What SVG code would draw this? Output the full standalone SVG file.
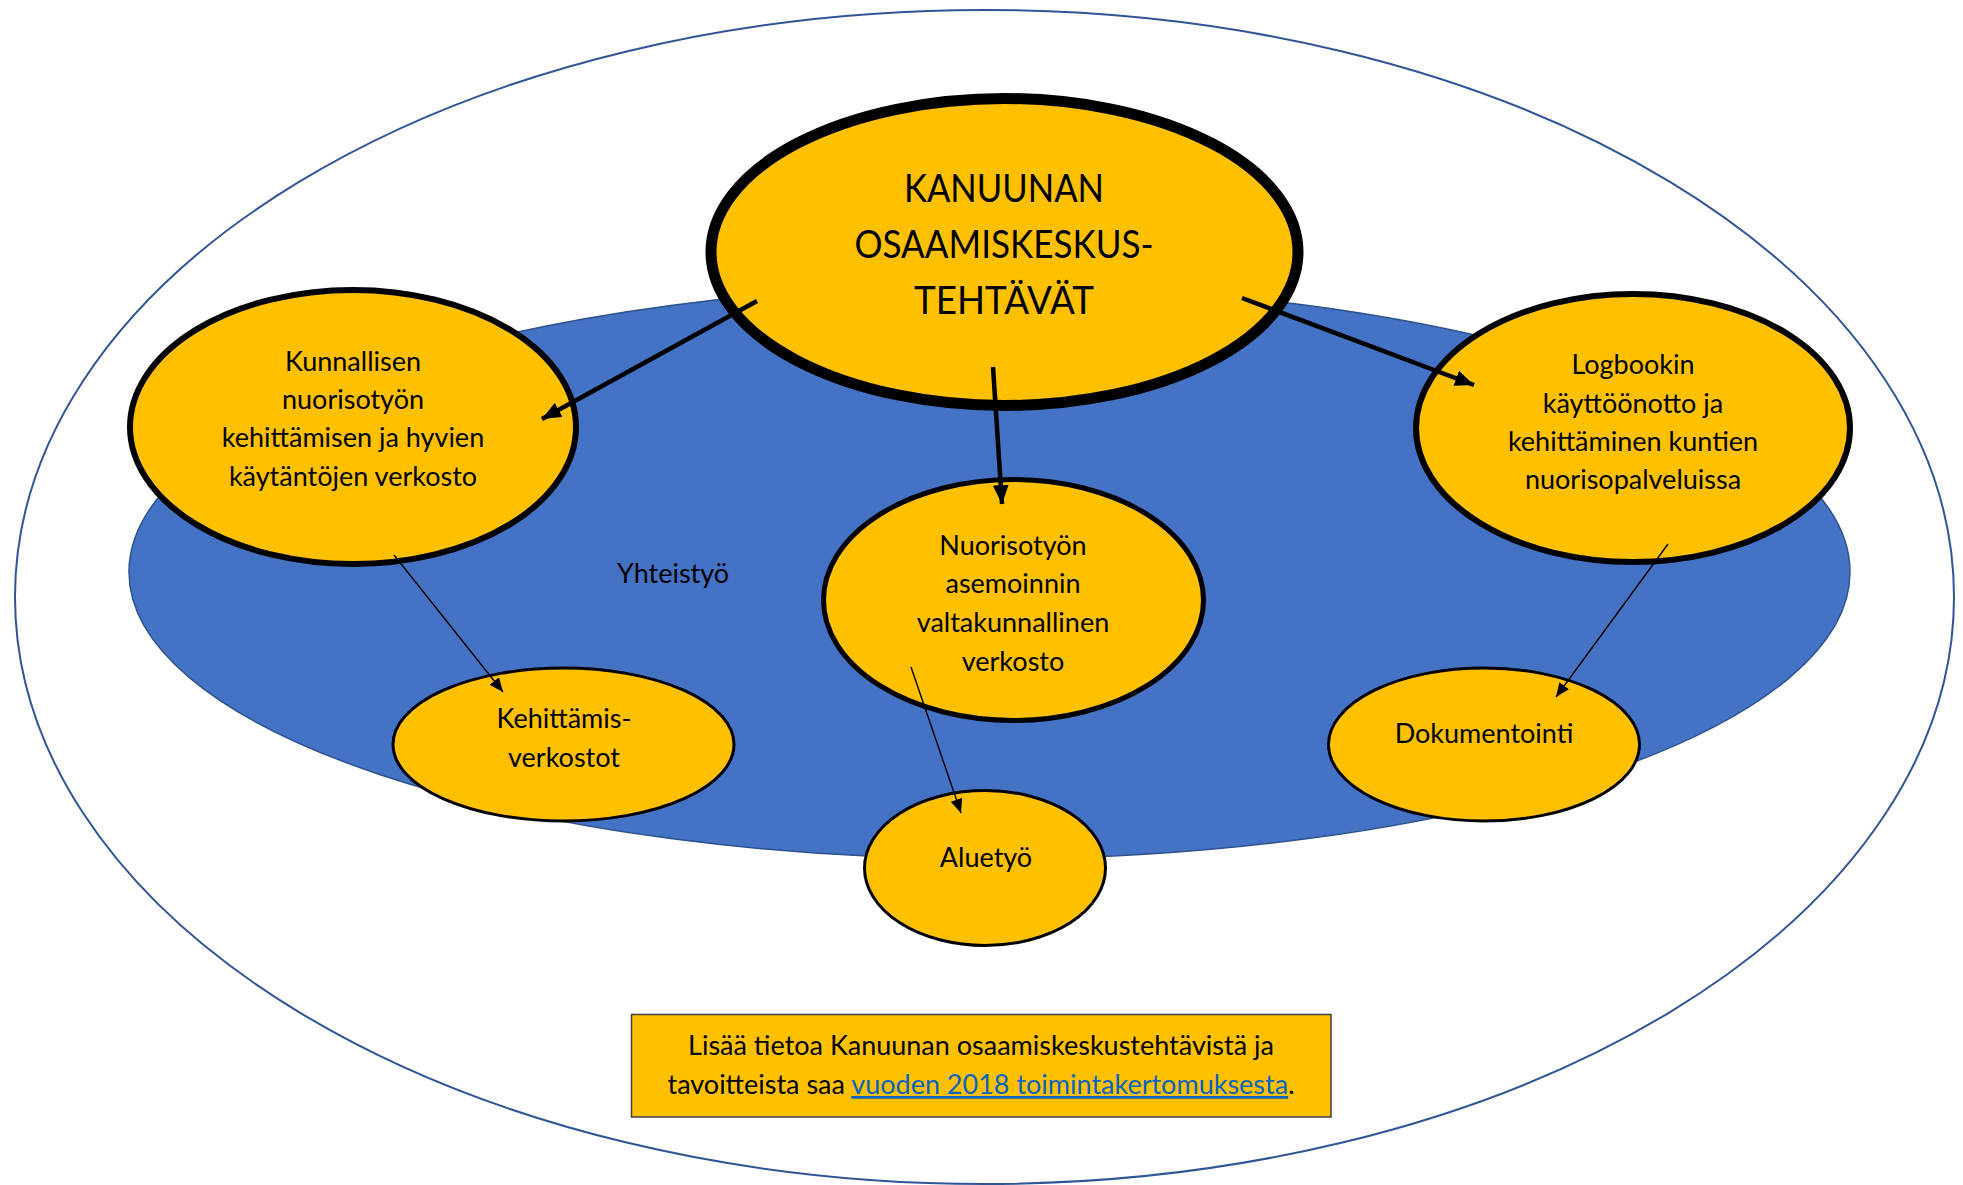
<svg xmlns="http://www.w3.org/2000/svg" width="1963" height="1185" viewBox="0 0 1963 1185">
<style>
.node{fill:#FFC000;stroke:#000}
.t{font-family:Lato,"Open Sans","Liberation Sans",sans-serif;fill:#000;text-anchor:middle}
.b{font-size:27px}
.h{font-size:39px}
.thick{stroke:#000;stroke-width:4.5;fill:none}
.thin{stroke:#000;stroke-width:1.4;fill:none}
</style>
<defs>
<marker id="ah" markerUnits="userSpaceOnUse" markerWidth="20" markerHeight="16" refX="19" refY="8" orient="auto"><path d="M0,0 L19,8 L0,16 z" fill="#000"/></marker>
<marker id="as" markerUnits="userSpaceOnUse" markerWidth="15" markerHeight="12" refX="14" refY="6" orient="auto"><path d="M0,0 L14,6 L0,12 z" fill="#000"/></marker>
</defs>
<rect width="1963" height="1185" fill="#fff"/>
<g id="background">
<ellipse cx="984.5" cy="597" rx="969.5" ry="587" fill="#fff" stroke="#2F5597" stroke-width="2"/>
<ellipse cx="989.5" cy="572" rx="860.5" ry="287" fill="#4472C4" stroke="#2F528F" stroke-width="1.5"/>
<text class="t b" x="673" y="583">Yhteistyö</text>
</g>
<g id="n-center">
<ellipse class="node" cx="1004.5" cy="252" rx="293.5" ry="153.5" stroke-width="11"/>
<text class="t h" x="1004" y="202" textLength="200" lengthAdjust="spacingAndGlyphs">KANUUNAN</text>
<text class="t h" x="1004" y="258" textLength="299" lengthAdjust="spacingAndGlyphs">OSAAMISKESKUS-</text>
<text class="t h" x="1004" y="314" textLength="180" lengthAdjust="spacingAndGlyphs">TEHTÄVÄT</text>
</g>
<g id="n-kunnallisen">
<ellipse class="node" cx="353" cy="427" rx="223" ry="137" stroke-width="6"/>
<text class="t b" x="353" y="371">Kunnallisen</text>
<text class="t b" x="353" y="409">nuorisotyön</text>
<text class="t b" x="353" y="447">kehittämisen ja hyvien</text>
<text class="t b" x="353" y="486">käytäntöjen verkosto</text>
</g>
<g id="n-logbook">
<ellipse class="node" cx="1633" cy="428" rx="217" ry="134" stroke-width="6"/>
<text class="t b" x="1633" y="374">Logbookin</text>
<text class="t b" x="1633" y="413">käyttöönotto ja</text>
<text class="t b" x="1633" y="451">kehittäminen kuntien</text>
<text class="t b" x="1633" y="489">nuorisopalveluissa</text>
</g>
<g id="n-nuorisotyon">
<ellipse class="node" cx="1013.5" cy="600" rx="190" ry="120.5" stroke-width="5"/>
<text class="t b" x="1013" y="555">Nuorisotyön</text>
<text class="t b" x="1013" y="593">asemoinnin</text>
<text class="t b" x="1013" y="632">valtakunnallinen</text>
<text class="t b" x="1013" y="671">verkosto</text>
</g>
<g id="n-kehittamis">
<ellipse class="node" cx="563.5" cy="744.5" rx="170.5" ry="76.5" stroke-width="3"/>
<text class="t b" x="564" y="728">Kehittämis-</text>
<text class="t b" x="564" y="767">verkostot</text>
</g>
<g id="n-aluetyo">
<ellipse class="node" cx="985" cy="868" rx="120.5" ry="77.5" stroke-width="3"/>
<text class="t b" x="986" y="867">Aluetyö</text>
</g>
<g id="n-dokumentointi">
<ellipse class="node" cx="1484" cy="744.5" rx="155.5" ry="76.5" stroke-width="3"/>
<text class="t b" x="1484" y="743">Dokumentointi</text>
</g>
<g id="connectors">
<line class="thick" x1="757" y1="301" x2="542" y2="419" marker-end="url(#ah)"/>
<line class="thick" x1="1242" y1="298" x2="1474" y2="385" marker-end="url(#ah)"/>
<line class="thick" x1="993" y1="367" x2="1002" y2="504" marker-end="url(#ah)"/>
<line class="thin" x1="394" y1="555" x2="503" y2="692" marker-end="url(#as)"/>
<line class="thin" x1="911" y1="667" x2="961" y2="813" marker-end="url(#as)"/>
<line class="thin" x1="1668" y1="544" x2="1556" y2="697" marker-end="url(#as)"/>
</g>
<g id="infobox">
<rect x="631.5" y="1014.5" width="699.5" height="102.5" fill="#FFC000" stroke="#404040" stroke-width="1.5"/>
<text class="t b" x="981" y="1055">Lisää tietoa Kanuunan osaamiskeskustehtävistä ja</text>
<text class="t b" x="981" y="1094">tavoitteista saa <tspan fill="#0563C1" text-decoration="underline">vuoden 2018 toimintakertomuksesta</tspan>.</text>
</g>
</svg>
